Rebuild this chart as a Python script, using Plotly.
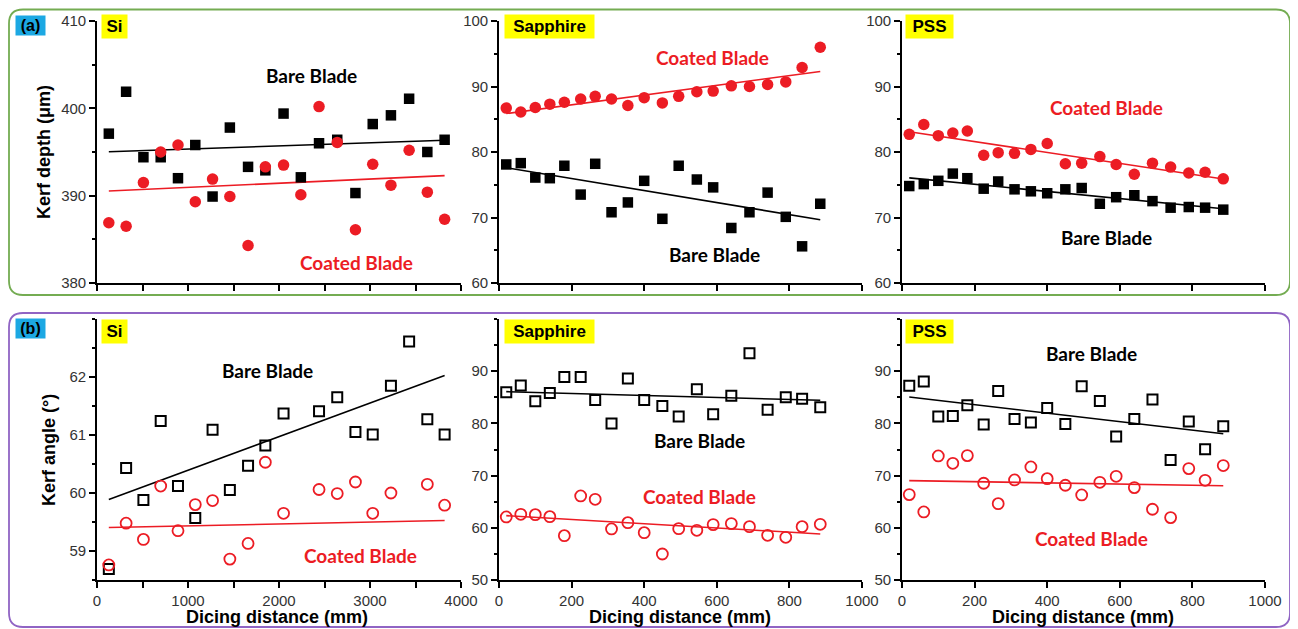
import numpy as np
import plotly.graph_objects as go

# ---------------- data ----------------
si_x = [130, 320, 510, 700, 890, 1080, 1270, 1460, 1660, 1850,
        2050, 2240, 2440, 2640, 2840, 3030, 3230, 3430, 3630, 3820]
sp_x = [20, 60, 100, 140, 180, 225, 265, 310, 355, 400,
        450, 495, 545, 590, 640, 690, 740, 790, 835, 885]

# (a) kerf depth (um)
si_depth_bare = [397.1, 401.9, 394.4, 394.4, 392.0, 395.8, 389.9, 397.8, 393.3, 392.9,
                 399.4, 392.1, 396.0, 396.4, 390.3, 398.2, 399.2, 401.1, 395.0, 396.4]
si_depth_coated = [386.9, 386.5, 391.5, 395.0, 395.8, 389.3, 391.9, 389.9, 384.3, 393.3,
                   393.5, 390.1, 400.2, 396.1, 386.1, 393.6, 391.2, 395.2, 390.4, 387.3]
sa_depth_bare = [78.1, 78.3, 76.1, 76.0, 77.9, 73.5, 78.2, 70.8, 72.3, 75.6,
                 69.8, 77.9, 75.8, 74.6, 68.4, 70.8, 73.8, 70.1, 65.6, 72.1]
sa_depth_coated = [86.7, 86.1, 86.8, 87.3, 87.6, 88.1, 88.5, 88.1, 87.1, 88.3,
                   87.5, 88.5, 89.2, 89.3, 90.1, 90.0, 90.3, 90.7, 92.9, 96.0]
pss_depth_bare = [74.8, 75.1, 75.6, 76.7, 76.0, 74.4, 75.5, 74.3, 74.0, 73.7,
                  74.3, 74.5, 72.1, 73.1, 73.4, 72.5, 71.5, 71.6, 71.5, 71.2]
pss_depth_coated = [82.7, 84.2, 82.5, 82.9, 83.2, 79.5, 79.9, 79.8, 80.4, 81.3,
                    78.2, 78.3, 79.3, 78.1, 76.6, 78.3, 77.7, 76.8, 76.9, 75.9]

# (b) kerf angle (deg)
# values at 2240 mm (bare, coated) and 3430 mm (coated) lie outside the plotted
# range in the original (hidden), estimated from the position of the fit lines
si_angle_bare = [58.69, 60.43, 59.88, 61.24, 60.12, 59.57, 61.09, 60.05, 60.47, 60.82,
                 61.37, 63.4, 61.41, 61.65, 61.05, 61.01, 61.85, 62.61, 61.27, 61.01]
si_angle_coated = [58.76, 59.48, 59.20, 60.12, 59.35, 59.80, 59.87, 58.86, 59.13, 60.53,
                   59.65, 57.4, 60.06, 59.99, 60.19, 59.65, 60.00, 57.3, 60.15, 59.79]
sa_angle_bare = [85.97, 87.25, 84.25, 85.8, 88.9, 88.9, 84.5, 80.0, 88.6, 84.5,
                 83.35, 81.3, 86.55, 81.75, 85.3, 93.45, 82.6, 85.0, 84.7, 83.1]
sa_angle_coated = [62.08, 62.59, 62.52, 62.14, 58.5, 66.1, 65.46, 59.78, 60.99, 59.07,
                   54.98, 59.84, 59.52, 60.61, 60.8, 60.22, 58.56, 58.18, 60.22, 60.67]
pss_angle_bare = [87.19, 88.02, 81.31, 81.44, 83.48, 79.78, 86.23, 80.86, 80.16, 82.97,
                  79.9, 87.12, 84.31, 77.48, 80.86, 84.57, 73.0, 80.35, 75.05, 79.46]
pss_angle_coated = [66.36, 63.04, 73.77, 72.36, 73.83, 68.53, 64.63, 69.17, 71.66, 69.42,
                    68.15, 66.29, 68.72, 69.87, 67.7, 63.55, 61.95, 71.34, 69.1, 71.92]

materials = ["Si", "Sapphire", "PSS"]
bare_label = "Bare Blade"
coated_label = "Coated Blade"

# ---------------- layout helpers ----------------
W, H = 1298, 629
OFF = 8  # page body margin: figure starts 8px right / down from window corner


def px(x):
    return (x - OFF) / W


def py(y):
    return 1 - (y - OFF) / H


RED = "#EC1C24"
TICKFONT = dict(family="Liberation Sans, Arial", size=15, color="#333333")
LABFONT = "Lato, Carlito, Calibri, sans-serif"

xdoms = [(px(97), px(461)), (px(499), px(862)), (px(902), px(1265))]
ydoms = [(py(283), py(21)), (py(580), py(319))]

panels = [
    dict(row=0, col=0, x=si_x, bare=si_depth_bare, coated=si_depth_coated,
         yr=[380, 410], yt=[380, 390, 400, 410], ym=5,
         bare_pos=(2352, 403.8), coat_pos=(2857, 382.3)),
    dict(row=0, col=1, x=sp_x, bare=sa_depth_bare, coated=sa_depth_coated,
         yr=[60, 100], yt=[60, 70, 80, 90, 100], ym=5,
         bare_pos=(595, 64.4), coat_pos=(587, 94.4)),
    dict(row=0, col=2, x=sp_x, bare=pss_depth_bare, coated=pss_depth_coated,
         yr=[60, 100], yt=[60, 70, 80, 90, 100], ym=5,
         bare_pos=(562, 67.0), coat_pos=(562, 86.8)),
    dict(row=1, col=0, x=si_x, bare=si_angle_bare, coated=si_angle_coated,
         yr=[58.5, 63], yt=[59, 60, 61, 62], ym=0.5,
         bare_pos=(1875, 62.11), coat_pos=(2901, 58.93)),
    dict(row=1, col=1, x=sp_x, bare=sa_angle_bare, coated=sa_angle_coated,
         yr=[50, 100], yt=[50, 60, 70, 80, 90], ym=5,
         bare_pos=(552, 76.7), coat_pos=(552, 66.0)),
    dict(row=1, col=2, x=sp_x, bare=pss_angle_bare, coated=pss_angle_coated,
         yr=[50, 100], yt=[50, 60, 70, 80, 90], ym=5,
         bare_pos=(523, 93.4), coat_pos=(523, 57.9)),
]

fig = go.Figure()
layout = dict(width=W, height=H, autosize=False,
              margin=dict(l=0, r=0, t=0, b=0, pad=0, autoexpand=False),
              paper_bgcolor="white", plot_bgcolor="rgba(0,0,0,0)",
              showlegend=False)
annotations = []


def fit_line(x, y):
    xs = np.array(x, dtype=float)
    ys = np.array(y, dtype=float)
    k, c = np.polyfit(xs, ys, 1)
    xx = np.array([xs.min(), xs.max()])
    return xx, k * xx + c


for i, p in enumerate(panels):
    n = i + 1
    xa = "x" if n == 1 else f"x{n}"
    ya = "y" if n == 1 else f"y{n}"
    top = p["row"] == 0
    is_si = p["col"] == 0

    if top:
        bare_marker = dict(symbol="square", size=10.5, color="black")
        coat_marker = dict(symbol="circle", size=11.5, color=RED)
    else:
        bare_marker = dict(symbol="square-open", size=10, color="black", line=dict(width=2))
        coat_marker = dict(symbol="circle-open", size=11, color=RED, line=dict(width=1.8))

    fx, fy = fit_line(p["x"], p["bare"])
    fig.add_trace(go.Scatter(x=fx, y=fy, mode="lines", line=dict(color="black", width=1.6),
                             xaxis=xa, yaxis=ya, hoverinfo="skip"))
    fx, fy = fit_line(p["x"], p["coated"])
    fig.add_trace(go.Scatter(x=fx, y=fy, mode="lines", line=dict(color=RED, width=1.6),
                             xaxis=xa, yaxis=ya, hoverinfo="skip"))
    fig.add_trace(go.Scatter(x=p["x"], y=p["bare"], mode="markers", marker=bare_marker,
                             name=bare_label, xaxis=xa, yaxis=ya, cliponaxis=True))
    fig.add_trace(go.Scatter(x=p["x"], y=p["coated"], mode="markers", marker=coat_marker,
                             name=coated_label, xaxis=xa, yaxis=ya, cliponaxis=True))

    if is_si:
        xr = [0, 4000]
        xtv = [0, 500, 1000, 1500, 2000, 2500, 3000, 3500, 4000]
        xtt = ["0", "", "1000", "", "2000", "", "3000", "", "4000"]
    else:
        xr = [0, 1000]
        xtv = [0, 200, 400, 600, 800, 1000]
        xtt = [str(v) for v in xtv]

    xkey = "xaxis" if n == 1 else f"xaxis{n}"
    ykey = "yaxis" if n == 1 else f"yaxis{n}"
    layout[xkey] = dict(domain=list(xdoms[p["col"]]), anchor=ya, range=xr,
                        tickmode="array", tickvals=xtv, ticktext=xtt,
                        showticklabels=not top, tickfont=TICKFONT, automargin=False,
                        ticks="outside", ticklen=6, tickwidth=1.5, tickcolor="black",
                        showline=True, linecolor="black", linewidth=1.6,
                        showgrid=False, zeroline=False, fixedrange=True)
    layout[ykey] = dict(domain=list(ydoms[p["row"]]), anchor=xa, range=p["yr"],
                        tickmode="array", tickvals=p["yt"], ticktext=[f"{v:g}" for v in p["yt"]],
                        tickfont=TICKFONT, automargin=False,
                        ticks="outside", ticklen=6, tickwidth=1.5, tickcolor="black",
                        minor=dict(tickmode="linear", tick0=0, dtick=p["ym"], ticks="outside",
                                   ticklen=3.5, tickwidth=1.5, tickcolor="black"),
                        showline=True, linecolor="black", linewidth=1.6,
                        showgrid=False, zeroline=False, fixedrange=True)

    bx, by = p["bare_pos"]
    cx, cy = p["coat_pos"]
    annotations.append(dict(x=bx, y=by, xref=xa, yref=ya, text=f"<b>{bare_label}</b>",
                            xanchor="center", yanchor="middle",
                            showarrow=False, font=dict(family=LABFONT, size=19, color="black")))
    annotations.append(dict(x=cx, y=cy, xref=xa, yref=ya, text=f"<b>{coated_label}</b>",
                            xanchor="center", yanchor="middle",
                            showarrow=False, font=dict(family=LABFONT, size=19, color=RED)))

# material tags (yellow)
tag_left = [101, 504, 905]
tag_w = [21, 85, 43]
for row_top in (14, 319):
    for j, m in enumerate(materials):
        annotations.append(dict(x=px(tag_left[j]), y=py(row_top), xref="paper", yref="paper",
                                xanchor="left", yanchor="top", text=f"<b>{m}</b>",
                                showarrow=False, bgcolor="#FFFF00", borderpad=2,
                                width=tag_w[j], height=19,
                                font=dict(family="Liberation Sans, Arial", size=17, color="black")))

# panel letters (blue)
for txt, top in (("(a)", 15), ("(b)", 318)):
    annotations.append(dict(x=px(15), y=py(top), xref="paper", yref="paper",
                            xanchor="left", yanchor="top", text=f"<b>{txt}</b>",
                            showarrow=False, bgcolor="#1CA8E3", borderpad=1,
                            width=27, height=17,
                            font=dict(family="Liberation Sans, Arial", size=16, color="black")))

# axis titles
TFONT = dict(family="Liberation Sans, Arial", size=18, color="black")
annotations.append(dict(x=px(44), y=py(152), xref="paper", yref="paper", textangle=-90,
                        xanchor="center", yanchor="middle",
                        text="<b>Kerf depth (μm)</b>", showarrow=False, font=TFONT))
annotations.append(dict(x=px(49), y=py(450), xref="paper", yref="paper", textangle=-90,
                        xanchor="center", yanchor="middle",
                        text="<b>Kerf angle (°)</b>", showarrow=False, font=TFONT))
for cxp in (277, 680, 1083):
    annotations.append(dict(x=px(cxp), y=py(617), xref="paper", yref="paper",
                            xanchor="center", yanchor="middle",
                            text="<b>Dicing distance (mm)</b>", showarrow=False, font=TFONT))

layout["annotations"] = annotations


def rounded(x0, y0, x1, y1, r):
    rx, ry = r / W, r / H
    X0, X1 = px(x0), px(x1)
    Y0, Y1 = py(y0), py(y1)
    return (f"M {X0 + rx},{Y0} L {X1 - rx},{Y0} Q {X1},{Y0} {X1},{Y0 - ry} "
            f"L {X1},{Y1 + ry} Q {X1},{Y1} {X1 - rx},{Y1} "
            f"L {X0 + rx},{Y1} Q {X0},{Y1} {X0},{Y1 + ry} "
            f"L {X0},{Y0 - ry} Q {X0},{Y0} {X0 + rx},{Y0} Z")

layout["shapes"] = [
    dict(type="path", xref="paper", yref="paper", path=rounded(9, 9.5, 1290, 295, 14),
         line=dict(color="#74AC52", width=1.8), layer="below"),
    dict(type="path", xref="paper", yref="paper", path=rounded(9, 313, 1290, 627, 14),
         line=dict(color="#9064C4", width=1.8), layer="below"),
]

fig.update_layout(**layout)
fig.write_html("out.html")
